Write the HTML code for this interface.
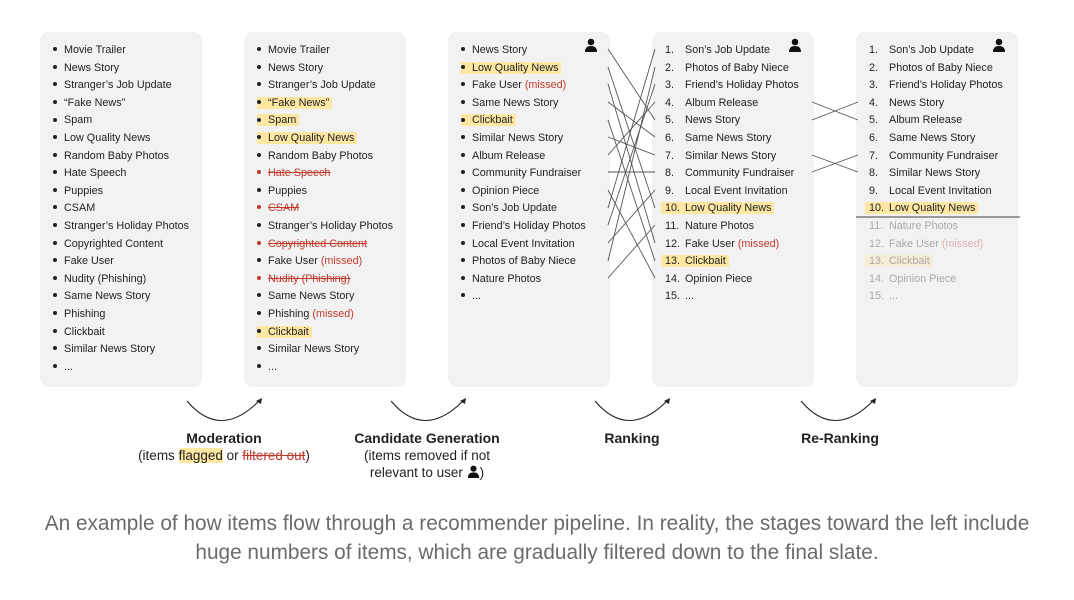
<!DOCTYPE html>
<html><head><meta charset="utf-8"><style>
body{margin:0;width:1074px;height:600px;background:#fff;position:relative;overflow:hidden;font-family:"Liberation Sans",sans-serif;}
.p{position:absolute;top:32px;width:162px;height:355px;background:#f2f2f2;border-radius:9px;padding-top:10px;box-sizing:border-box;}
.r{height:17.6px;line-height:17.6px;font-size:10.8px;color:#222;white-space:nowrap;padding-left:13px;}
.r span.in{padding:0 3px 0 0;}
.b{display:inline-block;width:4px;height:4px;border-radius:50%;background:#222;vertical-align:middle;margin:0 7px 2px 0;}
.h{background:#fde7a3;}
.m{color:#c0392b;}
.s{text-decoration:line-through;color:#c0392b;}
.n{display:inline-block;width:20px;}
.num .r{padding-left:9px;}
.num .r .in{padding-left:4px;}
.f{opacity:.35}
.ic{position:absolute;top:6px;right:12px;}
.lab{position:absolute;text-align:center;font-size:13.5px;color:#222;line-height:17px;}
.lab b{font-size:14px;}
.cap{position:absolute;left:0;width:1074px;top:509px;text-align:center;font-size:20.8px;color:#6b6b6b;line-height:29px;}
</style></head><body>
<svg width="0" height="0" style="position:absolute"><defs><symbol id="u" viewBox="0 0 14 14"><circle cx="7" cy="4" r="3.3" fill="#111"/><path d="M1 14 Q1 8 7 8 Q13 8 13 14Z" fill="#111"/></symbol></defs></svg>

<div class="p" style="left:40px">
<div class="r"><span class="b"></span>Movie Trailer</div>
<div class="r"><span class="b"></span>News Story</div>
<div class="r"><span class="b"></span>Stranger’s Job Update</div>
<div class="r"><span class="b"></span>“Fake News”</div>
<div class="r"><span class="b"></span>Spam</div>
<div class="r"><span class="b"></span>Low Quality News</div>
<div class="r"><span class="b"></span>Random Baby Photos</div>
<div class="r"><span class="b"></span>Hate Speech</div>
<div class="r"><span class="b"></span>Puppies</div>
<div class="r"><span class="b"></span>CSAM</div>
<div class="r"><span class="b"></span>Stranger’s Holiday Photos</div>
<div class="r"><span class="b"></span>Copyrighted Content</div>
<div class="r"><span class="b"></span>Fake User</div>
<div class="r"><span class="b"></span>Nudity (Phishing)</div>
<div class="r"><span class="b"></span>Same News Story</div>
<div class="r"><span class="b"></span>Phishing</div>
<div class="r"><span class="b"></span>Clickbait</div>
<div class="r"><span class="b"></span>Similar News Story</div>
<div class="r"><span class="b"></span>...</div>
</div>

<div class="p" style="left:244px">
<div class="r"><span class="b"></span>Movie Trailer</div>
<div class="r"><span class="b"></span>News Story</div>
<div class="r"><span class="b"></span>Stranger’s Job Update</div>
<div class="r"><span class="h in"><span class="b"></span>“Fake News”</span></div>
<div class="r"><span class="h in"><span class="b"></span>Spam</span></div>
<div class="r"><span class="h in"><span class="b"></span>Low Quality News</span></div>
<div class="r"><span class="b"></span>Random Baby Photos</div>
<div class="r s"><span class="b" style="background:#c0392b"></span>Hate Speech</div>
<div class="r"><span class="b"></span>Puppies</div>
<div class="r s"><span class="b" style="background:#c0392b"></span>CSAM</div>
<div class="r"><span class="b"></span>Stranger’s Holiday Photos</div>
<div class="r s"><span class="b" style="background:#c0392b"></span>Copyrighted Content</div>
<div class="r"><span class="b"></span>Fake User <span class="m">(missed)</span></div>
<div class="r s"><span class="b" style="background:#c0392b"></span>Nudity (Phishing)</div>
<div class="r"><span class="b"></span>Same News Story</div>
<div class="r"><span class="b"></span>Phishing <span class="m">(missed)</span></div>
<div class="r"><span class="h in"><span class="b"></span>Clickbait</span></div>
<div class="r"><span class="b"></span>Similar News Story</div>
<div class="r"><span class="b"></span>...</div>
</div>

<div class="p" style="left:448px">
<svg class="ic" width="14" height="14"><use href="#u"/></svg>
<div class="r"><span class="b"></span>News Story</div>
<div class="r"><span class="h in"><span class="b"></span>Low Quality News</span></div>
<div class="r"><span class="b"></span>Fake User <span class="m">(missed)</span></div>
<div class="r"><span class="b"></span>Same News Story</div>
<div class="r"><span class="h in"><span class="b"></span>Clickbait</span></div>
<div class="r"><span class="b"></span>Similar News Story</div>
<div class="r"><span class="b"></span>Album Release</div>
<div class="r"><span class="b"></span>Community Fundraiser</div>
<div class="r"><span class="b"></span>Opinion Piece</div>
<div class="r"><span class="b"></span>Son’s Job Update</div>
<div class="r"><span class="b"></span>Friend’s Holiday Photos</div>
<div class="r"><span class="b"></span>Local Event Invitation</div>
<div class="r"><span class="b"></span>Photos of Baby Niece</div>
<div class="r"><span class="b"></span>Nature Photos</div>
<div class="r"><span class="b"></span>...</div>
</div>

<div class="p num" style="left:652px">
<svg class="ic" width="14" height="14"><use href="#u"/></svg>
<div class="r"><span class="in"><span class="n">1.</span>Son’s Job Update</span></div>
<div class="r"><span class="in"><span class="n">2.</span>Photos of Baby Niece</span></div>
<div class="r"><span class="in"><span class="n">3.</span>Friend’s Holiday Photos</span></div>
<div class="r"><span class="in"><span class="n">4.</span>Album Release</span></div>
<div class="r"><span class="in"><span class="n">5.</span>News Story</span></div>
<div class="r"><span class="in"><span class="n">6.</span>Same News Story</span></div>
<div class="r"><span class="in"><span class="n">7.</span>Similar News Story</span></div>
<div class="r"><span class="in"><span class="n">8.</span>Community Fundraiser</span></div>
<div class="r"><span class="in"><span class="n">9.</span>Local Event Invitation</span></div>
<div class="r"><span class="in h"><span class="n">10.</span>Low Quality News</span></div>
<div class="r"><span class="in"><span class="n">11.</span>Nature Photos</span></div>
<div class="r"><span class="in"><span class="n">12.</span>Fake User <span class="m">(missed)</span></span></div>
<div class="r"><span class="in h"><span class="n">13.</span>Clickbait</span></div>
<div class="r"><span class="in"><span class="n">14.</span>Opinion Piece</span></div>
<div class="r"><span class="in"><span class="n">15.</span>...</span></div>
</div>

<div class="p num" style="left:856px">
<svg class="ic" width="14" height="14"><use href="#u"/></svg>
<div class="r"><span class="in"><span class="n">1.</span>Son’s Job Update</span></div>
<div class="r"><span class="in"><span class="n">2.</span>Photos of Baby Niece</span></div>
<div class="r"><span class="in"><span class="n">3.</span>Friend’s Holiday Photos</span></div>
<div class="r"><span class="in"><span class="n">4.</span>News Story</span></div>
<div class="r"><span class="in"><span class="n">5.</span>Album Release</span></div>
<div class="r"><span class="in"><span class="n">6.</span>Same News Story</span></div>
<div class="r"><span class="in"><span class="n">7.</span>Community Fundraiser</span></div>
<div class="r"><span class="in"><span class="n">8.</span>Similar News Story</span></div>
<div class="r"><span class="in"><span class="n">9.</span>Local Event Invitation</span></div>
<div class="r"><span class="in h"><span class="n">10.</span>Low Quality News</span></div>
<div class="r f"><span class="in"><span class="n">11.</span>Nature Photos</span></div>
<div class="r f"><span class="in"><span class="n">12.</span>Fake User <span class="m">(missed)</span></span></div>
<div class="r f"><span class="in h"><span class="n">13.</span>Clickbait</span></div>
<div class="r f"><span class="in"><span class="n">14.</span>Opinion Piece</span></div>
<div class="r f"><span class="in"><span class="n">15.</span>...</span></div>
</div>

<svg width="1074" height="600" style="position:absolute;left:0;top:0" fill="none" stroke="#555" stroke-width="0.9">
<g>
<line x1="608" y1="49" x2="655" y2="120"/>
<line x1="608" y1="67" x2="655" y2="208"/>
<line x1="608" y1="84" x2="655" y2="243"/>
<line x1="608" y1="102" x2="655" y2="137"/>
<line x1="608" y1="120" x2="655" y2="261"/>
<line x1="608" y1="137" x2="655" y2="155"/>
<line x1="608" y1="155" x2="655" y2="102"/>
<line x1="608" y1="172" x2="655" y2="172"/>
<line x1="608" y1="190" x2="655" y2="278"/>
<line x1="608" y1="208" x2="655" y2="49"/>
<line x1="608" y1="225" x2="655" y2="84"/>
<line x1="608" y1="243" x2="655" y2="190"/>
<line x1="608" y1="261" x2="655" y2="67"/>
<line x1="608" y1="278" x2="655" y2="225"/>
<line x1="812" y1="102" x2="858" y2="120"/>
<line x1="812" y1="120" x2="858" y2="102"/>
<line x1="812" y1="155" x2="858" y2="172"/>
<line x1="812" y1="172" x2="858" y2="155"/>
</g>
<line x1="856" y1="217" x2="1020" y2="217" stroke="#666" stroke-width="1.2"/>
<g stroke="#222" stroke-width="1.1">
<path d="M187 401 Q220 440 259 401"/>
<path d="M391 401 Q424 440 463 401"/>
<path d="M595 401 Q628 440 667 401"/>
<path d="M801 401 Q834 440 873 401"/>
</g>
<g fill="#222" stroke="none">
<path d="M262 398 l-6 3 l5 3z"/>
<path d="M466 398 l-6 3 l5 3z"/>
<path d="M670 398 l-6 3 l5 3z"/>
<path d="M876 398 l-6 3 l5 3z"/>
</g>
</svg>

<div class="lab" style="left:110px;width:228px;top:430px"><b>Moderation</b><br>(items <span class="h">flagged</span> or <span class="s">filtered out</span>)</div>
<div class="lab" style="left:327px;width:200px;top:430px"><b>Candidate Generation</b><br>(items removed if not<br>relevant to user <svg width="13" height="13" style="vertical-align:-1px"><use href="#u"/></svg>)</div>
<div class="lab" style="left:582px;width:100px;top:430px"><b>Ranking</b></div>
<div class="lab" style="left:780px;width:120px;top:430px"><b>Re-Ranking</b></div>

<div class="cap">An example of how items flow through a recommender pipeline. In reality, the stages toward the left include<br>huge numbers of items, which are gradually filtered down to the final slate.</div>
</body></html>
